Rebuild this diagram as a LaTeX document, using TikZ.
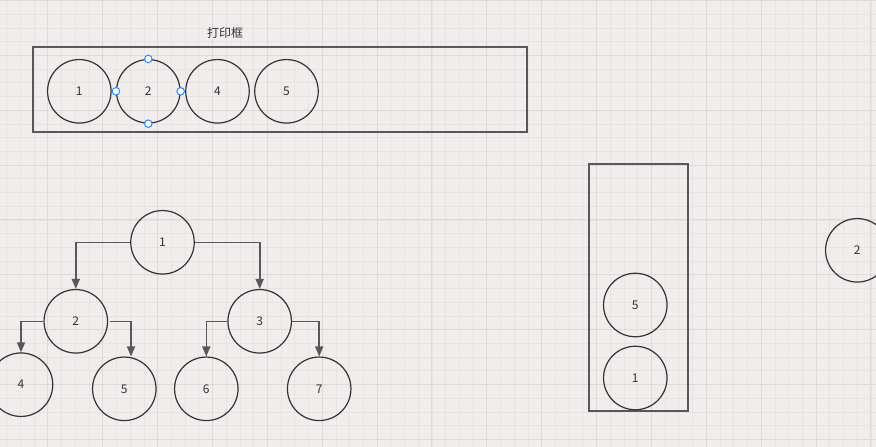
\documentclass[tikz,border=0pt]{standalone}
\usepackage{fontspec}
\setmainfont{Noto Sans CJK SC}
\usetikzlibrary{arrows.meta}
\definecolor{canvas}{RGB}{240,237,236}
\definecolor{gridminor}{RGB}{230,227,226}
\definecolor{gridmajor}{RGB}{221,218,217}
\definecolor{ink}{RGB}{51,51,51}
\definecolor{frame}{RGB}{88,88,88}
\definecolor{handle}{RGB}{41,135,255}
\begin{document}
\begin{tikzpicture}[x=1pt,y=-1pt,
  ball/.style={circle,draw=ink,line width=1.2pt,minimum size=63.5pt,inner sep=0pt,
    font=\fontsize{12}{14}\selectfont,text=ink},
  container/.style={draw=frame,line width=1.9pt},
  link/.style={draw=frame,line width=1.6pt,-{Triangle[length=10pt,width=8pt]}},
  grip/.style={circle,draw=handle,fill=white,line width=1pt,minimum size=7.5pt,inner sep=0pt},
  caption/.style={font=\fontsize{12}{14}\selectfont,text=ink},
  minorline/.style={draw=gridminor,line width=0.8pt},
  majorline/.style={draw=gridmajor,line width=1pt}]
\useasboundingbox (0,0) rectangle (876,447);
\clip (0,0) rectangle (876,447);
% canvas with grid
\fill[canvas] (0,0) rectangle (876,447);
\foreach \k in {0,...,65} {
  \pgfmathsetmacro{\gx}{-6.97+13.717*\k}
  \draw[minorline] (\gx,0) -- (\gx,447);
}
\foreach \k in {0,...,33} {
  \pgfmathsetmacro{\gy}{0.5+13.717*\k}
  \draw[minorline] (0,\gy) -- (876,\gy);
}
\foreach \k in {0,...,16} {
  \pgfmathsetmacro{\gx}{-6.97+54.87*\k}
  \draw[majorline] (\gx,0) -- (\gx,447);
}
\foreach \k in {0,...,8} {
  \pgfmathsetmacro{\gy}{0.5+54.87*\k}
  \draw[majorline] (0,\gy) -- (876,\gy);
}

% print queue
\node[caption] (title) at (225,33.3) {打印框};
\draw[container] (32.7,46.7) rectangle (526.7,131.7);
\node[ball] (p1) at (79.3,91.3) {1};
\node[ball] (p2) at (148.3,91.3) {2};
\node[ball] (p4) at (217.5,91.3) {4};
\node[ball] (p5) at (286.5,91.3) {5};
\node[grip] (gn) at (p2.north) {};
\node[grip] (gs) at (p2.south) {};
\node[grip] (gw) at (p2.west) {};
\node[grip] (ge) at (p2.east) {};

% binary tree
\node[ball] (t1) at (162.5,242.3) {1};
\node[ball] (t2) at (75.8,321.3) {2};
\node[ball] (t3) at (259.7,321.3) {3};
\node[ball] (t4) at (21,384.7) {4};
\node[ball] (t5) at (124.3,388.8) {5};
\node[ball] (t6) at (206.3,388.8) {6};
\node[ball] (t7) at (319.2,388.8) {7};
\draw[link] (t1.west) -| (t2.north);
\draw[link] (t1.east) -| (t3.north);
\draw[link] (t2.west) -| (t4.north);
\draw[link] ([xshift=1.5pt]t2.east) -| ([xshift=6.7pt]t5.north);
\draw[link] (t3.west) -| (t6.north);
\draw[link] (t3.east) -| (t7.north);

% stack
\draw[container] (588.7,164) rectangle (688,411);
\node[ball] (s5) at (635.3,305) {5};
\node[ball] (s1) at (635.3,378) {1};

% popped node
\node[ball] (q2) at (857.3,250.3) {2};
\end{tikzpicture}
\end{document}
